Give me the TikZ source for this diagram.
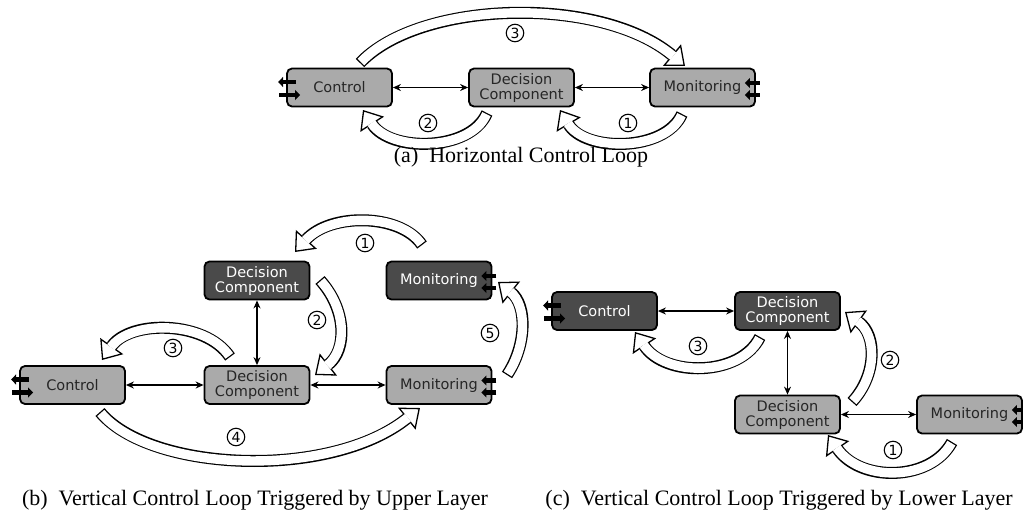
\documentclass[tikz,border=0pt]{standalone}
\usepackage{fontspec}
\usetikzlibrary{arrows.meta,calc}
\newfontfamily\nodefont{DejaVu Sans}
\newfontfamily\capfont{Liberation Serif}
\definecolor{lightbox}{HTML}{AAAAAA}
\definecolor{darkbox}{HTML}{4A4A4A}
\tikzset{
  comp/.style={draw=black, line width=1.8pt, rounded corners=5pt, minimum width=105pt, minimum height=38pt,
    inner sep=0pt, align=center, font=\nodefont\fontsize{14.5}{15}\selectfont},
  lightcomp/.style={comp, fill=lightbox, text=black!85},
  darkcomp/.style={comp, fill=darkbox, text=white},
  link/.style={line width=1.2pt, {Stealth[length=8pt,width=7pt]}-{Stealth[length=8pt,width=7pt]}},
  portarrow/.style={line width=4.5pt, -{Triangle[length=5pt,width=10pt]}},
  numlabel/.style={circle, draw=black, line width=1.1pt, fill=white, minimum size=17.5pt, inner sep=0pt,
    font=\nodefont\fontsize{14}{14}\selectfont},
  caption/.style={font=\capfont\fontsize{22}{24}\selectfont, inner sep=0pt}
}
\newcommand\fatarrow[1]{%
  \draw[white, line width=0.5pt, -{Triangle[length=17pt,width=28pt,fill=white,color=black,line width=1.3pt]}] #1;
  \draw[black, line width=12pt, shorten >=17pt] #1;
  \draw[white, line width=9.4pt, shorten >=15.5pt, shorten <=1.3pt] #1;
}
\newcommand\ctrlports[1]{%
  \draw[portarrow] ($(#1.west)+(10,-5.5)$) -- ($(#1.west)+(-8,-5.5)$);
  \draw[portarrow] ($(#1.west)+(-7,7.5)$) -- ($(#1.west)+(14,7.5)$);
}
\newcommand\monports[1]{%
  \draw[portarrow] ($(#1.east)+(4,-4.5)$) -- ($(#1.east)+(-11,-4.5)$);
  \draw[portarrow] ($(#1.east)+(4,7.5)$) -- ($(#1.east)+(-11,7.5)$);
}
\begin{document}
\begin{tikzpicture}[x=1pt,y=-1pt]
\useasboundingbox (0,0) rectangle (1023,512);
% ---------- (a) ----------
\node[lightcomp] (actrl) at (339.5,87.5) {Control};
\node[lightcomp] (adc) at (521.5,87.5) {Decision\\Component};
\node[lightcomp] (amon) at (702.5,87.5) {Monitoring};
\ctrlports{actrl}
\monports{amon}
\draw[link] (actrl) -- (adc);
\draw[link] (adc) -- (amon);
\coordinate (a3s) at (360,63); \coordinate (a3e) at (685,66);
\coordinate (a2s) at (487,113); \coordinate (a2e) at (363,110);
\coordinate (a1s) at (682,114); \coordinate (a1e) at (560,110);
\fatarrow{(a3s) .. controls (420,0) and (600,-5) .. (a3e)}
\fatarrow{(a2s) .. controls (470,152) and (390,152) .. (a2e)}
\fatarrow{(a1s) .. controls (665,152) and (585,152) .. (a1e)}
\node[numlabel] (n3a) at (515,33) {3};
\node[numlabel] (n2a) at (428,123) {2};
\node[numlabel] (n1a) at (628,123) {1};
\node[caption] (capa) at (521,157) {(a)\hspace{0.5em}Horizontal Control Loop};
% ---------- (b) ----------
\node[darkcomp] (budc) at (257,280.5) {Decision\\Component};
\node[darkcomp] (bumon) at (439,280.5) {Monitoring};
\node[lightcomp] (bctrl) at (72.5,385) {Control};
\node[lightcomp] (bdc) at (257,385) {Decision\\Component};
\node[lightcomp] (bmon) at (439,385) {Monitoring};
\monports{bumon}
\ctrlports{bctrl}
\monports{bmon}
\draw[link] (bctrl) -- (bdc);
\draw[link] (bdc) -- (bmon);
\draw[link] (budc) -- (bdc);
\coordinate (b1s) at (422,245); \coordinate (b1e) at (295,252);
\coordinate (b2s) at (320,280); \coordinate (b2e) at (315,375);
\coordinate (b3s) at (230,357); \coordinate (b3e) at (102,360);
\coordinate (b4s) at (100,412); \coordinate (b4e) at (420,408);
\coordinate (b5s) at (507,375); \coordinate (b5e) at (498,282);
\fatarrow{(b1s) .. controls (400,213) and (330,213) .. (b1e)}
\fatarrow{(b2s) .. controls (347,310) and (347,350) .. (b2e)}
\fatarrow{(b3s) .. controls (205,320) and (130,320) .. (b3e)}
\fatarrow{(b4s) .. controls (150,472) and (330,480) .. (b4e)}
\fatarrow{(b5s) .. controls (527,345) and (527,305) .. (b5e)}
\node[numlabel] (n1b) at (365,243) {1};
\node[numlabel] (n2b) at (317,320) {2};
\node[numlabel] (n3b) at (173,348) {3};
\node[numlabel] (n4b) at (236,437) {4};
\node[numlabel] (n5b) at (490,333) {5};
\node[caption] (capb) at (255,500) {(b)\hspace{0.5em}Vertical Control Loop Triggered by Upper Layer};
% ---------- (c) ----------
\node[darkcomp] (cctrl) at (604.5,311) {Control};
\node[darkcomp] (cudc) at (787.5,311) {Decision\\Component};
\node[lightcomp] (cdc) at (787.5,414.5) {Decision\\Component};
\node[lightcomp] (cmon) at (969.5,414.5) {Monitoring};
\ctrlports{cctrl}
\monports{cmon}
\draw[link] (cctrl) -- (cudc);
\draw[link] (cudc) -- (cdc);
\draw[link] (cdc) -- (cmon);
\coordinate (c3s) at (760,337); \coordinate (c3e) at (635,332);
\coordinate (c2s) at (852,402); \coordinate (c2e) at (845,312);
\coordinate (c1s) at (952,442); \coordinate (c1e) at (828,435);
\fatarrow{(c3s) .. controls (740,377) and (665,377) .. (c3e)}
\fatarrow{(c2s) .. controls (877,375) and (877,335) .. (c2e)}
\fatarrow{(c1s) .. controls (930,482) and (860,482) .. (c1e)}
\node[numlabel] (n3c) at (698,346) {3};
\node[numlabel] (n2c) at (890,360) {2};
\node[numlabel] (n1c) at (893,450) {1};
\node[caption] (capc) at (779,500) {(c)\hspace{0.5em}Vertical Control Loop Triggered by Lower Layer};
\end{tikzpicture}
\end{document}
